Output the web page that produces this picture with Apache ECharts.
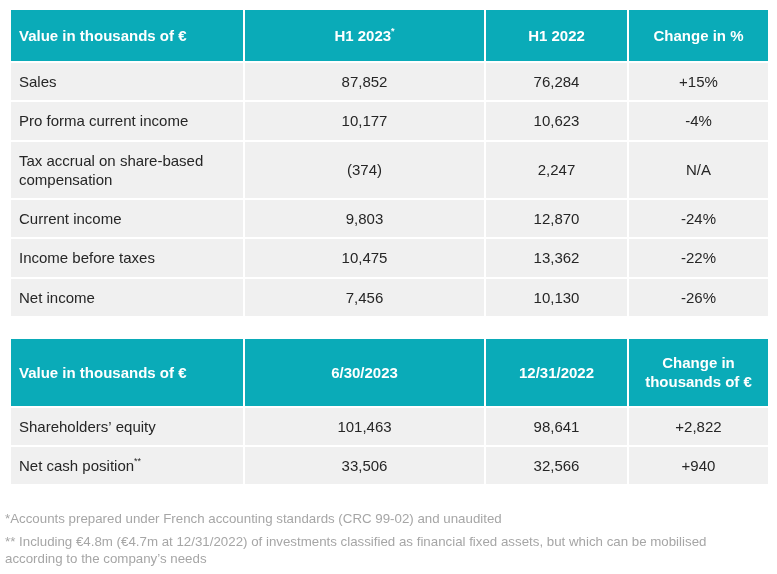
<!DOCTYPE html>
<html><head><meta charset="utf-8">
<script src="https://cdn.jsdelivr.net/npm/echarts@6/dist/echarts.min.js"></script>
<style>html,body{margin:0;padding:0;background:#fff}#c{width:777px;height:574px}</style>
</head><body><div id="c"></div>
<script>
// ---- data ----
const headers1 = ['Value in thousands of €', 'H1 2023', 'H1 2022', 'Change in %'];
const headerMarks1 = ['', '*', '', ''];
const labels1 = ['Sales', 'Pro forma current income', 'Tax accrual on share-based\ncompensation', 'Current income', 'Income before taxes', 'Net income'];
const h1_2023 = [87852, 10177, -374, 9803, 10475, 7456];
const h1_2022 = [76284, 10623, 2247, 12870, 13362, 10130];
const changePct = [15, -4, null, -24, -22, -26];

const headers2 = ['Value in thousands of €', '6/30/2023', '12/31/2022', 'Change in\nthousands of €'];
const labels2 = ['Shareholders’ equity', 'Net cash position'];
const labelMarks2 = ['', '**'];
const jun2023 = [101463, 33506];
const dec2022 = [98641, 32566];
const changeK = [2822, 940];

const footnotes = [
  '*Accounts prepared under French accounting standards (CRC 99-02) and unaudited',
  '** Including €4.8m (€4.7m at 12/31/2022) of investments classified as financial fixed assets, but which can be mobilised\naccording to the company’s needs'
];

// ---- layout (kept apart from data) ----
const colEdges = [10, 244, 485, 628, 769];
const rowEdges = [
  [9, 62, 101, 141, 199, 238, 278, 317],
  [338, 407, 446, 485]
];
const TEAL = '#0aabb8', ROWBG = '#f0f0f0', INK = '#262626', NOTE = '#a6a6a6';
const FONT = '"Liberation Sans", Arial, sans-serif';
const FS = 15;

// ---- formatting ----
const fmt = v => Math.abs(v).toLocaleString('en-US');
const fmtVal = v => v < 0 ? '(' + fmt(v) + ')' : fmt(v);
const fmtPct = v => v == null ? 'N/A' : (v > 0 ? '+' : '') + v + '%';
const fmtDelta = v => (v > 0 ? '+' : v < 0 ? '-' : '') + fmt(v);
const esc = s => s.replace(/[{}|]/g, '');
const withMark = (s, m) => m ? s.split('\n').map(l => '{a|' + esc(l) + '}').join('\n') + '{s|' + m + '}' : s;

// ---- build cells ----
const cells = [];   // [col, row, table]
const cellInfo = [];
function add(t, r, c, text, header) {
  cells.push([c, r, t]);
  cellInfo.push({ text, header });
}
headers1.forEach((h, c) => add(0, 0, c, withMark(h, headerMarks1[c]), true));
labels1.forEach((l, i) => {
  add(0, i + 1, 0, l, false);
  add(0, i + 1, 1, fmtVal(h1_2023[i]), false);
  add(0, i + 1, 2, fmtVal(h1_2022[i]), false);
  add(0, i + 1, 3, fmtPct(changePct[i]), false);
});
headers2.forEach((h, c) => add(1, 0, c, h, true));
labels2.forEach((l, i) => {
  add(1, i + 1, 0, withMark(l, labelMarks2[i]), false);
  add(1, i + 1, 1, fmtVal(jun2023[i]), false);
  add(1, i + 1, 2, fmtVal(dec2022[i]), false);
  add(1, i + 1, 3, fmtDelta(changeK[i]), false);
});

function renderItem(params, api) {
  const c = api.value(0), r = api.value(1), t = api.value(2);
  const info = cellInfo[params.dataIndex];
  const ed = rowEdges[t];
  const p0 = api.coord([colEdges[c], ed[r]]);
  const p1 = api.coord([colEdges[c + 1], ed[r + 1]]);
  const x = p0[0], y = p0[1], w = p1[0] - p0[0], h = p1[1] - p0[1];
  const color = info.header ? '#ffffff' : INK;
  const weight = info.header ? 'bold' : 'normal';
  return {
    type: 'group',
    children: [
      { type: 'rect', shape: { x: x, y: y, width: w, height: h },
        style: { fill: info.header ? TEAL : ROWBG, stroke: '#ffffff', lineWidth: 2 } },
      { type: 'text',
        style: {
          text: info.text,
          x: c === 0 ? x + 9 : x + w / 2,
          y: y + h / 2 + 1,
          align: c === 0 ? 'left' : 'center',
          verticalAlign: 'middle',
          fontFamily: FONT, fontSize: FS, fontWeight: weight, fill: color,
          lineHeight: 19,
          rich: {
            a: { fontFamily: FONT, fontSize: FS, fontWeight: weight, fill: color, lineHeight: 19 },
            s: { fontFamily: FONT, fontSize: 9, fontWeight: weight, fill: color, verticalAlign: 'top', lineHeight: 13 }
          }
        } }
    ]
  };
}

const chart = echarts.init(document.getElementById('c'), null, { renderer: 'canvas' });
chart.setOption({
  animation: false,
  backgroundColor: '#ffffff',
  grid: { left: 0, right: 0, top: 0, bottom: 0 },
  xAxis: { type: 'value', min: 0, max: 777, show: false },
  yAxis: { type: 'value', min: 0, max: 574, inverse: true, show: false },
  series: [{ type: 'custom', renderItem: renderItem, data: cells, clip: false, silent: true }],
  graphic: footnotes.map((f, i) => ({
    type: 'text', left: 5, top: i === 0 ? 511 : 534,
    style: { text: f, fontFamily: FONT, fontSize: 13.3, fill: NOTE, lineHeight: 17 }
  }))
});
</script></body></html>
